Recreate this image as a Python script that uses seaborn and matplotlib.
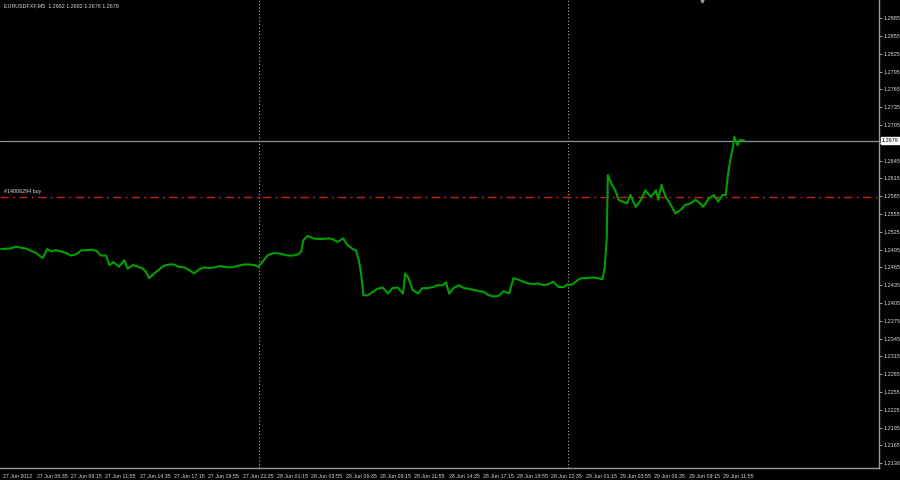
import matplotlib
matplotlib.use("Agg")
import matplotlib.pyplot as plt
import matplotlib.transforms as mtransforms
import seaborn as sns
import pandas as pd

# M5 bar index (0 = first visible bar) and close price
bar_idx = [0, 9, 14, 19, 23, 28, 33, 37, 39, 43, 47, 51, 56, 61, 65, 70, 75, 79, 84, 89,
           93, 98, 101, 105, 110, 115, 118, 123, 128, 132, 135, 138, 143, 147, 152, 157, 161, 166, 171, 175,
           180, 185, 189, 194, 199, 203, 208, 213, 217, 222, 227, 231, 236, 240, 244, 249, 254, 258, 263, 268,
           272, 277, 280, 282, 286, 291, 295, 300, 305, 309, 314, 319, 323, 328, 331, 334, 336, 338, 342, 347,
           351, 356, 361, 365, 370, 375, 377, 380, 384, 389, 393, 398, 403, 407, 412, 415, 418, 422, 427, 432,
           436, 441, 446, 450, 455, 460, 464, 469, 474, 478, 483, 487, 492, 497, 501, 506, 511, 515, 520, 525,
           528, 533, 538, 542, 547, 552, 556, 561, 563, 565, 566, 568, 570, 573, 576, 581, 584, 587, 592, 597,
           601, 606, 611, 613, 616, 620, 624, 629, 634, 638, 643, 648, 652, 655, 660, 665, 669, 673, 676, 678,
           680, 683, 684, 687, 689, 693]
close = [1.2496, 1.2497, 1.2500, 1.2498, 1.2497, 1.2493, 1.2489, 1.2483, 1.2481, 1.2496,
         1.2492, 1.2494, 1.2492, 1.2489, 1.2485, 1.2487, 1.2494, 1.2494, 1.2495, 1.2493,
         1.2485, 1.2485, 1.2469, 1.2474, 1.2466, 1.2477, 1.2463, 1.2469, 1.2466, 1.2463,
         1.2458, 1.2447, 1.2455, 1.2461, 1.2468, 1.2470, 1.2470, 1.2466, 1.2465, 1.2461,
         1.2455, 1.2462, 1.2465, 1.2464, 1.2465, 1.2467, 1.2466, 1.2465, 1.2466, 1.2468,
         1.2470, 1.2470, 1.2469, 1.2466, 1.2475, 1.2486, 1.2489, 1.2489, 1.2487, 1.2485,
         1.2485, 1.2487, 1.2492, 1.2511, 1.2518, 1.2514, 1.2513, 1.2513, 1.2514, 1.2513,
         1.2508, 1.2514, 1.2503, 1.2496, 1.2494, 1.2475, 1.2452, 1.2418, 1.2418, 1.2424,
         1.2429, 1.2431, 1.2421, 1.2430, 1.2431, 1.2421, 1.2455, 1.2447, 1.2427, 1.2421,
         1.2430, 1.2430, 1.2432, 1.2435, 1.2435, 1.2440, 1.2421, 1.2430, 1.2435, 1.2430,
         1.2429, 1.2427, 1.2425, 1.2424, 1.2418, 1.2416, 1.2417, 1.2425, 1.2421, 1.2447,
         1.2444, 1.2441, 1.2438, 1.2437, 1.2438, 1.2435, 1.2437, 1.2441, 1.2432, 1.2432,
         1.2436, 1.2436, 1.2444, 1.2447, 1.2447, 1.2448, 1.2447, 1.2445, 1.2463, 1.2514,
         1.2621, 1.2612, 1.2604, 1.2595, 1.2579, 1.2575, 1.2573, 1.2587, 1.2567, 1.2579,
         1.2595, 1.2584, 1.2595, 1.2579, 1.2604, 1.2584, 1.2573, 1.2556, 1.2562, 1.2570,
         1.2573, 1.2579, 1.2573, 1.2567, 1.2581, 1.2587, 1.2576, 1.2587, 1.2587, 1.2621,
         1.2643, 1.2671, 1.2685, 1.2671, 1.2680, 1.2679]

time_labels = ["27 Jun 2012", "27 Jun 06:35", "27 Jun 09:15", "27 Jun 11:55", "27 Jun 14:35",
               "27 Jun 17:15", "27 Jun 19:55", "27 Jun 22:35", "28 Jun 01:15", "28 Jun 03:55",
               "28 Jun 06:35", "28 Jun 09:15", "28 Jun 11:55", "28 Jun 14:35", "28 Jun 17:15",
               "28 Jun 19:55", "28 Jun 22:35", "29 Jun 01:15", "29 Jun 03:55", "29 Jun 06:35",
               "29 Jun 09:15", "29 Jun 11:55"]
price_ticks = [1.2885, 1.2855, 1.2825, 1.2795, 1.2765, 1.2735, 1.2705, 1.2675, 1.2645,
               1.2615, 1.2585, 1.2555, 1.2525, 1.2495, 1.2465, 1.2435, 1.2405, 1.2375,
               1.2345, 1.2315, 1.2285, 1.2255, 1.2225, 1.2195, 1.2165, 1.2136]
day_breaks = [241, 529]          # bars at 28 Jun 00:00 and 29 Jun 00:00
buy_price = 1.2584
last_price = 1.2679
header = "EURUSDFXF,M5  1.2682 1.2682 1.2678 1.2679"
order_label = "#14806294 buy"

df = pd.DataFrame({"bar": bar_idx, "close": close})

sns.set_style("dark")
plt.rcParams["font.family"] = ["Liberation Sans", "DejaVu Sans"]
axis_grey = "#9a9a9a"
txt = "#d8d8d8"

fig = plt.figure(figsize=(9, 4.8), dpi=100, facecolor="black")
ax = fig.add_axes([0.0, 0.025, 0.9767, 0.975])
ax.set_facecolor("black")

sns.lineplot(data=df, x="bar", y="close", color="#00a000", linewidth=1.5,
             estimator=None, ax=ax, zorder=4)

ax.set_xlim(-1, 819)
ax.set_ylim(1.21268, 1.29159)

# period separators
for b in day_breaks:
    ax.axvline(b, color="#b0b0b0", linestyle=(0, (1, 2)), linewidth=0.8, zorder=2)

# last price line and order line
ax.axhline(last_price, color="#8c9099", linewidth=0.9, zorder=3)
ax.axhline(buy_price, color="#c81e1e", linewidth=1.0, linestyle=(0, (6, 3, 1.5, 3)), zorder=3)
ax.text(3, buy_price + 0.0004, order_label, color=txt, fontsize=3.9, ha="left", va="bottom")

# current price box on the price scale
ax.text(1.003, last_price, f"{last_price:.4f}", transform=ax.get_yaxis_transform(),
        fontsize=4.0, color="black", ha="left", va="center", clip_on=False, zorder=10,
        bbox=dict(boxstyle="square,pad=0.2", facecolor="white", edgecolor="white"))

# header text and chart-shift marker
ax.text(0.004, 0.993, header, transform=ax.transAxes, color=txt, fontsize=3.9,
        ha="left", va="top")
ax.plot([0.7986], [0.997], transform=ax.transAxes, marker="v", markersize=2.2,
        color="#9a9a9a", clip_on=False)

# axes styling
ax.grid(False)
ax.yaxis.tick_right()
ax.set_yticks(price_ticks)
ax.set_yticklabels([f"{p:.4f}" for p in price_ticks])
ax.set_xticks(range(0, 32 * len(time_labels), 32))
ax.set_xticklabels(time_labels)
ax.tick_params(axis="y", colors=axis_grey, labelcolor=txt, labelsize=4.0,
               length=2.5, width=0.8, pad=1, direction="out")
ax.tick_params(axis="x", colors=axis_grey, labelcolor=txt, labelsize=3.8,
               length=3, width=0.8, pad=1, direction="out")
shift = mtransforms.ScaledTranslation(1.5 / 100, 0, fig.dpi_scale_trans)
for lab in ax.get_xticklabels():
    lab.set_horizontalalignment("left")
    lab.set_transform(lab.get_transform() + shift)
ax.set_xlabel("")
ax.set_ylabel("")
for side in ["top", "left"]:
    ax.spines[side].set_visible(False)
for side in ["bottom", "right"]:
    ax.spines[side].set_color(axis_grey)
    ax.spines[side].set_linewidth(1.0)

fig.savefig("out.png", dpi=100, facecolor="black")
